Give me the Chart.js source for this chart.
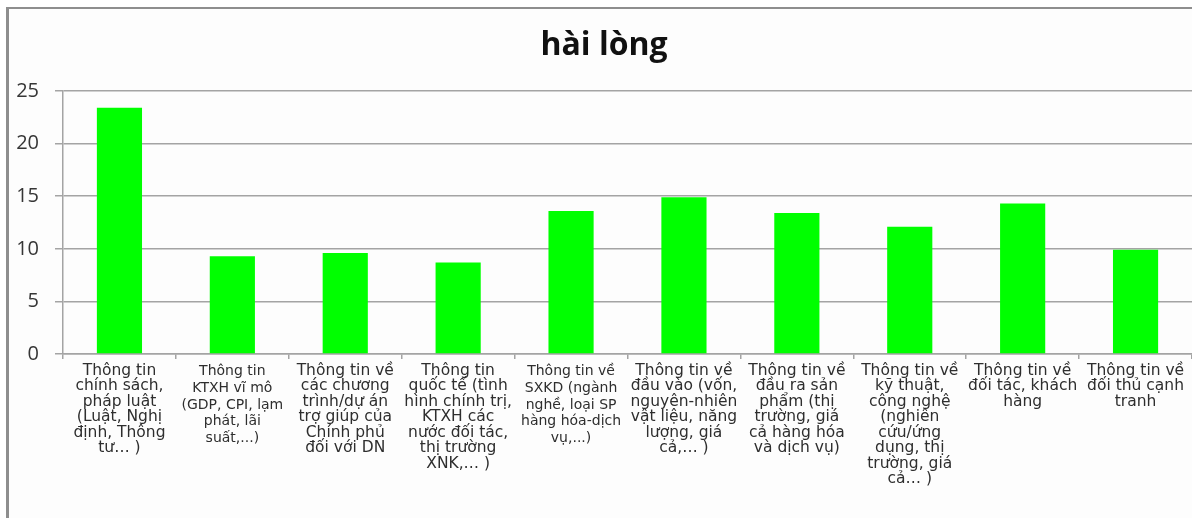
<!DOCTYPE html>
<html>
<head>
<meta charset="utf-8">
<script src="https://cdn.jsdelivr.net/npm/chart.js@4/dist/chart.umd.min.js"></script>
<style>
  html, body { margin: 0; padding: 0; background: #ffffff; }
  #wrap { position: absolute; left: 0; top: 0; width: 1192px; height: 518px; overflow: hidden; }
  #frame {
    position: absolute; left: 6px; top: 7px; right: 0; bottom: 0;
    border-left: 3px solid #8e8e8e; border-top: 2px solid #8e8e8e;
    background: #fdfdfd;
  }
  canvas { position: absolute; left: 0; top: 0; }
</style>
</head>
<body>
<div id="wrap">
  <div id="frame"></div>
  <canvas id="chart" width="1192" height="518"></canvas>
</div>
<script>
// Chart title
const chartTitle = 'hài lòng';

// Information categories (one entry per bar, split into display lines)
const categories = [
  ['Thông tin', 'chính sách,', 'pháp luật', '(Luật, Nghị', 'định, Thông', 'tư… )'],
  ['Thông tin', 'KTXH vĩ mô', '(GDP, CPI, lạm', 'phát, lãi', 'suất,...)'],
  ['Thông tin về', 'các chương', 'trình/dự án', 'trợ giúp của', 'Chính phủ', 'đối với DN'],
  ['Thông tin', 'quốc tế (tình', 'hình chính trị,', 'KTXH các', 'nước đối tác,', 'thị trường', 'XNK,… )'],
  ['Thông tin về', 'SXKD (ngành', 'nghề, loại SP', 'hàng hóa-dịch', 'vụ,...)'],
  ['Thông tin về', 'đầu vào (vốn,', 'nguyên-nhiên', 'vật liệu, năng', 'lượng, giá', 'cả,… )'],
  ['Thông tin về', 'đầu ra sản', 'phẩm (thị', 'trường, giá', 'cả hàng hóa', 'và dịch vụ)'],
  ['Thông tin về', 'kỹ thuật,', 'công nghệ', '(nghiên', 'cứu/ứng', 'dụng, thị', 'trường, giá', 'cả… )'],
  ['Thông tin về', 'đối tác, khách', 'hàng'],
  ['Thông tin về', 'đối thủ cạnh', 'tranh']
];

// Share of respondents satisfied with each information type
const satisfied = [23.4, 9.3, 9.6, 8.7, 13.6, 14.9, 13.4, 12.1, 14.3, 9.9];

// Value-axis tick labels
const yTicks = [0, 5, 10, 15, 20, 25];

// Two category labels are set in a tighter, smaller face
const compactLabels = new Set([1, 4]);

const gridColor = '#a4a4a4';

new Chart(document.getElementById('chart'), {
  type: 'bar',
  data: {
    labels: categories,
    datasets: [{
      label: chartTitle,
      data: satisfied,
      backgroundColor: '#00ff00',
      borderWidth: 0,
      categoryPercentage: 1.0,
      barPercentage: 0.4
    }]
  },
  options: {
    responsive: false,
    animation: false,
    layout: { padding: { left: 16, right: 0, top: 0, bottom: 0 } },
    plugins: {
      legend: { display: false },
      tooltip: { enabled: false },
      title: {
        display: true,
        text: chartTitle,
        color: '#111111',
        font: { family: '"Open Sans", sans-serif', size: 32, weight: 'bold', lineHeight: 1.2 },
        padding: { top: 27, bottom: 25.6 }
      }
    },
    scales: {
      x: {
        grid: {
          display: true,
          drawOnChartArea: false,
          drawTicks: true,
          tickLength: 5,
          color: gridColor,
          lineWidth: 1.5,
          offset: true
        },
        border: { display: true, color: gridColor, width: 1.5 },
        ticks: {
          autoSkip: false,
          maxRotation: 0,
          minRotation: 0,
          padding: 4,
          color: '#2e2e2e',
          font: (ctx) => compactLabels.has(ctx.index)
            ? { family: '"DejaVu Sans", sans-serif', size: 14, lineHeight: '16.8px' }
            : { family: '"DejaVu Sans", sans-serif', size: 15.5, lineHeight: '15.5px' }
        },
        afterFit: (scale) => { scale.height = 164; }
      },
      y: {
        min: yTicks[0],
        max: yTicks[yTicks.length - 1],
        afterBuildTicks: (scale) => { scale.ticks = yTicks.map(v => ({ value: v })); },
        grid: {
          color: gridColor,
          lineWidth: 1.5,
          drawTicks: true,
          tickLength: 8
        },
        border: { display: true, color: gridColor, width: 1.5 },
        ticks: {
          padding: 16,
          color: '#363636',
          font: { family: '"Open Sans", sans-serif', size: 20 }
        },
        afterFit: (scale) => { scale.width = 47; }
      }
    }
  }
});
</script>
</body>
</html>
